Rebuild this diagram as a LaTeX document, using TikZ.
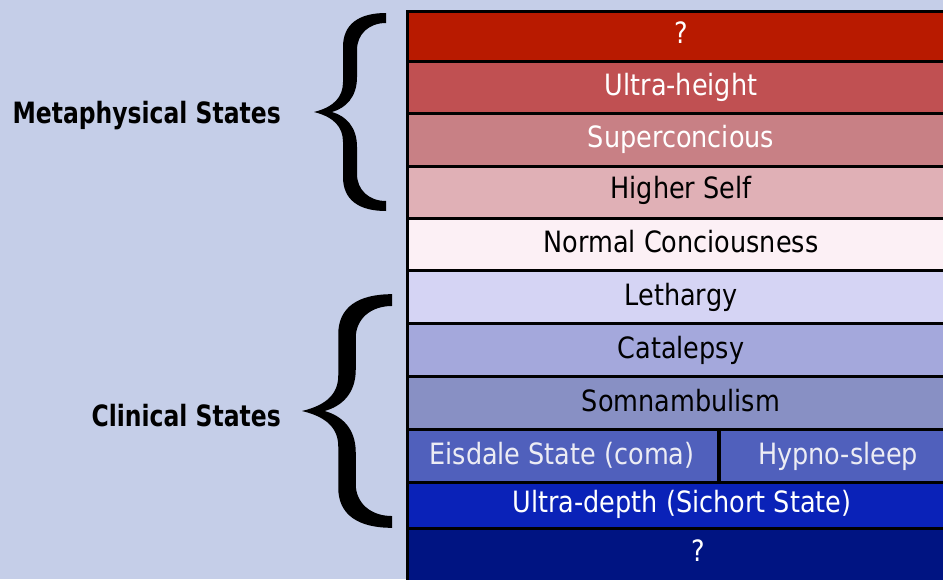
\documentclass[tikz,border=0pt]{standalone}
\usepackage{fontspec}
\setmainfont{DejaVu Sans}[FakeStretch=0.87,BoldFeatures={FakeStretch=0.80}]
\begin{document}
\begin{tikzpicture}[x=0.75pt,y=-0.75pt,
  rowline/.style={draw=black,line width=2.25pt},
  rowtext/.style={anchor=base,inner sep=0pt,font=\fontsize{22}{26}\selectfont},
  lighttext/.style={rowtext,text=white},
  darktext/.style={rowtext,text=black},
  grouplabel/.style={anchor=base east,inner sep=0pt,font=\fontsize{22}{26}\selectfont\bfseries},
  bracefill/.style={fill=black,draw=none}]
\definecolor{bg}{HTML}{C5CEE8}
\definecolor{cA}{HTML}{B81A00}
\definecolor{cB}{HTML}{C05052}
\definecolor{cC}{HTML}{C88085}
\definecolor{cD}{HTML}{E0B0B6}
\definecolor{cE}{HTML}{FCF0F5}
\definecolor{cF}{HTML}{D5D4F4}
\definecolor{cG}{HTML}{A4A8DC}
\definecolor{cH}{HTML}{8890C4}
\definecolor{cI}{HTML}{5060BC}
\definecolor{cJ}{HTML}{0A22B8}
\definecolor{cK}{HTML}{001482}
\definecolor{paletext}{HTML}{ECECF4}
\clip (0,0) rectangle (943,579);
\fill[bg] (0,0) rectangle (943,579);
% rows
\fill[cA] (407,11) rectangle (957,61);
\fill[cB] (407,61) rectangle (957,113);
\fill[cC] (407,113) rectangle (957,166);
\fill[cD] (407,166) rectangle (957,218);
\fill[cE] (407,218) rectangle (957,270);
\fill[cF] (407,270) rectangle (957,323);
\fill[cG] (407,323) rectangle (957,376);
\fill[cH] (407,376) rectangle (957,429);
\fill[cI] (407,429) rectangle (957,482);
\fill[cJ] (407,482) rectangle (957,528);
\fill[cK] (407,528) rectangle (957,600);
\foreach \ya/\yb in {11/61,61/113,113/166,166/218,218/270,270/323,323/376,376/429,429/482,482/528,528/600}
  \draw[rowline] (407,\ya) rectangle (957,\yb);
\draw[rowline,line width=3pt] (719,429) -- (719,482);
% row texts
\node[lighttext] (t1) at (681,43) {?};
\node[lighttext] (t2) at (681,95) {Ultra-height};
\node[lighttext] (t3) at (681,147) {Superconcious};
\node[darktext] (t4) at (681,198) {Higher Self};
\node[darktext] (t5) at (681,252) {Normal Conciousness};
\node[darktext] (t6) at (681,305) {Lethargy};
\node[darktext] (t7) at (681,358) {Catalepsy};
\node[darktext] (t8) at (681,411) {Somnambulism};
\node[rowtext,text=paletext] (t9) at (562,464) {Eisdale State (coma)};
\node[rowtext,text=paletext] (t10) at (838,464) {Hypno-sleep};
\node[lighttext] (t11) at (682,512) {Ultra-depth (Sichort State)};
\node[lighttext] (t12) at (698,561) {?};
% group labels
\node[grouplabel] (meta) at (281,123) {Metaphysical States};
\node[grouplabel] (clin) at (281,426) {Clinical States};
% braces
\def\bracepath{(0,0) .. controls (20,-5) and (29,-15) .. (29,-30)
  -- (29,-65) .. controls (29,-88) and (45,-99) .. (72,-99)
  -- (72,-89) .. controls (55,-89) and (43,-78) .. (43,-62)
  -- (43,-35) .. controls (43,-15) and (32,-4) .. (18,0)
  .. controls (32,4) and (43,15) .. (43,35)
  -- (43,62) .. controls (43,78) and (55,89) .. (72,89)
  -- (72,99) .. controls (45,99) and (29,88) .. (29,65)
  -- (29,30) .. controls (29,15) and (20,5) .. (0,0) -- cycle}
\begin{scope}[shift={(314,112)}]
  \fill[bracefill] \bracepath;
\end{scope}
\begin{scope}[shift={(302,411)},xscale=1.25,yscale=1.18]
  \fill[bracefill] \bracepath;
\end{scope}
\end{tikzpicture}
\end{document}
